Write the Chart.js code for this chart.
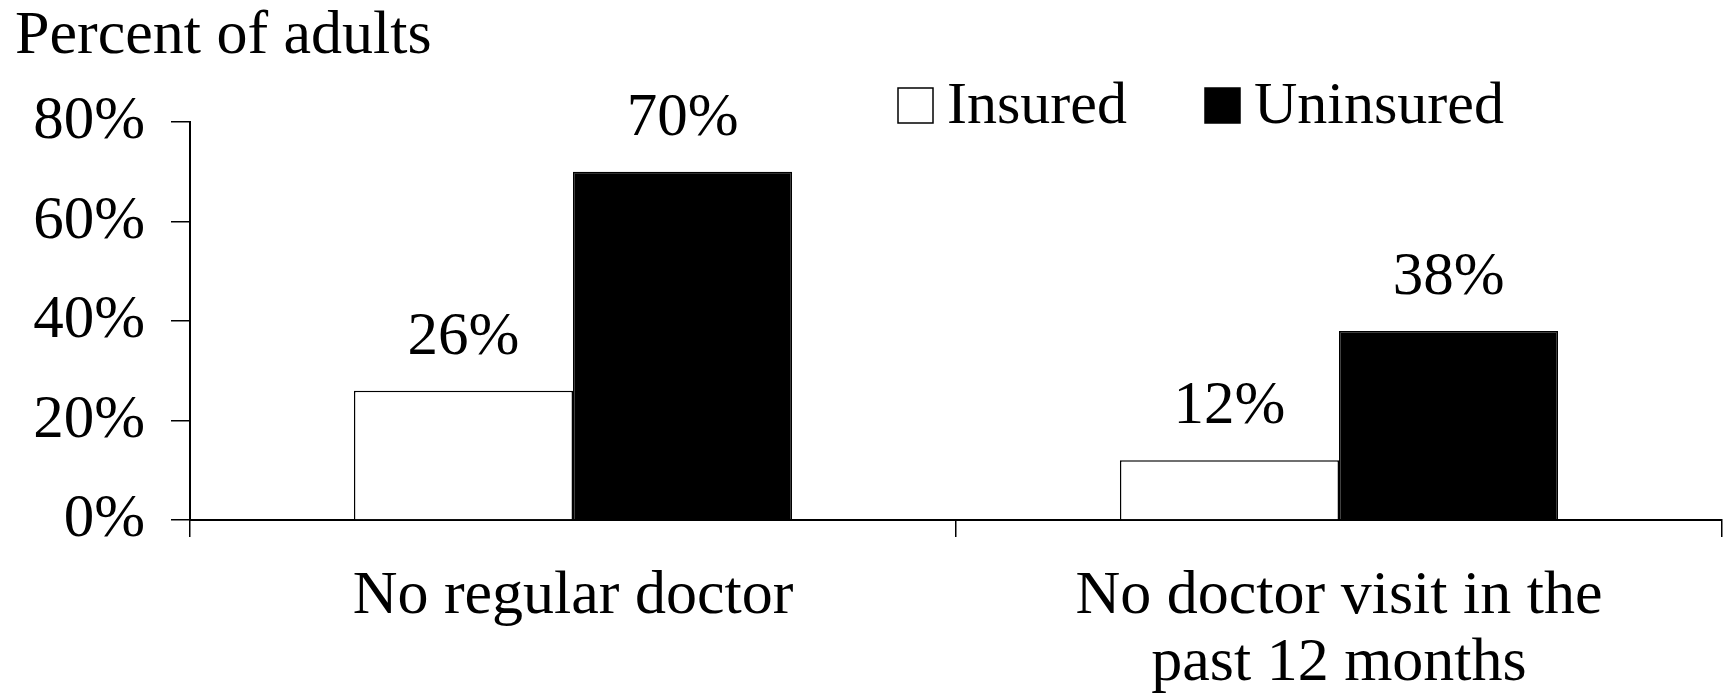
<!DOCTYPE html>
<html>
<head>
<meta charset="utf-8">
<script src="https://cdn.jsdelivr.net/npm/chart.js@4/dist/chart.umd.min.js"></script>
<style>
  html, body { margin: 0; padding: 0; background: #fff; }
  #wrap { width: 1725px; height: 693px; position: relative; }
</style>
</head>
<body>
<div id="wrap"><canvas id="chart"></canvas></div>
<script>
const categories = [
  'No regular doctor',
  ['No doctor visit in the', 'past 12 months']
];
const insured = [26, 12];
const uninsured = [70, 38];
const yTicks = [0, 20, 40, 60, 80];
const yTitle = 'Percent of adults';

const FONT = '"Liberation Serif", "Times New Roman", serif';

// value labels above each bar
const barLabels = {
  id: 'barLabels',
  afterDatasetsDraw(chart) {
    const ctx = chart.ctx;
    ctx.save();
    ctx.font = '61px ' + FONT;
    ctx.fillStyle = '#000';
    ctx.textAlign = 'center';
    ctx.textBaseline = 'alphabetic';
    chart.data.datasets.forEach((ds, i) => {
      chart.getDatasetMeta(i).data.forEach((bar, j) => {
        ctx.fillText(ds.data[j] + '%', bar.x, bar.y - 37);
      });
    });
    ctx.restore();
  }
};

// axis title at top-left and legend boxes at top-right
const headerBits = {
  id: 'headerBits',
  afterDraw(chart) {
    const ctx = chart.ctx;
    ctx.save();
    ctx.fillStyle = '#000';
    ctx.textBaseline = 'alphabetic';
    ctx.textAlign = 'left';
    ctx.font = '62px ' + FONT;
    ctx.fillText(yTitle, 15, 53);

    ctx.font = '60px ' + FONT;
    const spots = [898, 1205];
    chart.data.datasets.forEach((ds, i) => {
      const x = spots[i];
      ctx.fillStyle = ds.backgroundColor;
      ctx.fillRect(x, 88, 35, 35);
      ctx.lineWidth = 1.5;
      ctx.strokeStyle = '#000';
      ctx.strokeRect(x, 88, 35, 35);
      ctx.fillStyle = '#000';
      ctx.fillText(ds.label, x + 49, 123);
    });
    ctx.restore();
  }
};

new Chart(document.getElementById('chart'), {
  type: 'bar',
  data: {
    labels: categories,
    datasets: [
      {
        label: 'Insured',
        data: insured,
        backgroundColor: '#ffffff',
        borderColor: '#000000',
        borderWidth: 1.5
      },
      {
        label: 'Uninsured',
        data: uninsured,
        backgroundColor: '#000000',
        borderColor: '#000000',
        borderWidth: 1.5
      }
    ]
  },
  options: {
    responsive: true,
    maintainAspectRatio: false,
    animation: false,
    layout: { padding: { top: 122, right: 3, left: 0, bottom: 0 } },
    datasets: {
      bar: { categoryPercentage: 0.572, barPercentage: 1.0 }
    },
    plugins: {
      legend: { display: false },
      title: { display: false },
      tooltip: { enabled: false }
    },
    scales: {
      x: {
        grid: {
          offset: true,
          drawOnChartArea: false,
          tickLength: 17,
          color: '#000',
          lineWidth: 1.5
        },
        border: { display: true, color: '#000', width: 2 },
        ticks: {
          color: '#000',
          padding: 26,
          maxRotation: 0,
          font: { family: FONT, size: 62, lineHeight: 1.08 }
        },
        afterFit(scale) { scale.height = 173; }
      },
      y: {
        min: 0,
        max: 80,
        afterBuildTicks(scale) {
          scale.ticks = yTicks.map(v => ({ value: v }));
        },
        grid: {
          drawOnChartArea: false,
          tickLength: 19,
          color: '#000',
          lineWidth: 1.5
        },
        border: { display: true, color: '#000', width: 2 },
        ticks: {
          color: '#000',
          padding: 26,
          callback: v => v + '%',
          font: { family: FONT, size: 61 }
        },
        afterFit(scale) { scale.width = 190; }
      }
    }
  },
  plugins: [barLabels, headerBits]
});
</script>
</body>
</html>
